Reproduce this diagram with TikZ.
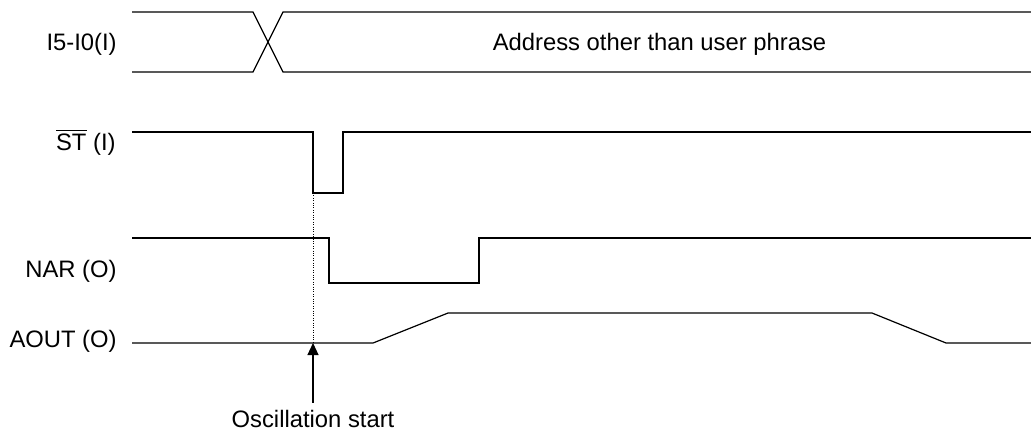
\documentclass[tikz,border=0pt]{standalone}
\usepackage{fontspec}
\setmainfont{Liberation Sans}
\usetikzlibrary{arrows.meta}
\tikzset{
  wave/.style={line width=0.6pt},
  siglabel/.style={anchor=base east,inner sep=0pt,font=\fontsize{11.9}{14}\selectfont},
  note/.style={anchor=base,inner xsep=0pt,inner ysep=3.3pt,font=\fontsize{11.9}{14}\selectfont},
}

\begin{document}
\begin{tikzpicture}[x=0.5pt,y=-0.5pt]
\useasboundingbox (0,0) rectangle (1031,433);
% I5-I0 bus
\node[siglabel] (bus) at (117,50.7) {I5-I0(I)};
\draw[wave] (132,12) -- (253,12) -- (283,72) -- (1031,72);
\draw[wave] (132,72) -- (253,72) -- (283,12) -- (1031,12);
\node[note,inner ysep=0pt] (addr) at (659.5,51) {Address other than user phrase};
% /ST
\node[siglabel] (st) at (116,150) {$\overline{\mbox{ST}}$ (I)};
\draw[wave] (132,132) -- (313,132) -- (313,193) coordinate (stlow)
      -- (343,193) -- (343,132) -- (1031,132);
% NAR
\node[siglabel] (nar) at (117,277) {NAR (O)};
\draw[wave] (132,238) -- (329,238) -- (329,283) -- (479,283)
      -- (479,238) -- (1031,238);
% AOUT
\node[siglabel] (aout) at (117,347) {AOUT (O)};
\draw[wave] (132,343) -- (313,343) coordinate (osc) -- (373,343)
      -- (448,313) -- (872,313) -- (946,343) -- (1031,343);
% oscillation start marker
\draw[line width=0.5pt,dash pattern=on 0.5pt off 0.7pt] (stlow) -- (osc);
\node[note] (start) at (313,427) {Oscillation start};
\draw[wave,-{Triangle[width=5.5pt,length=6pt]}] (start) -- (osc);
\end{tikzpicture}
\end{document}
